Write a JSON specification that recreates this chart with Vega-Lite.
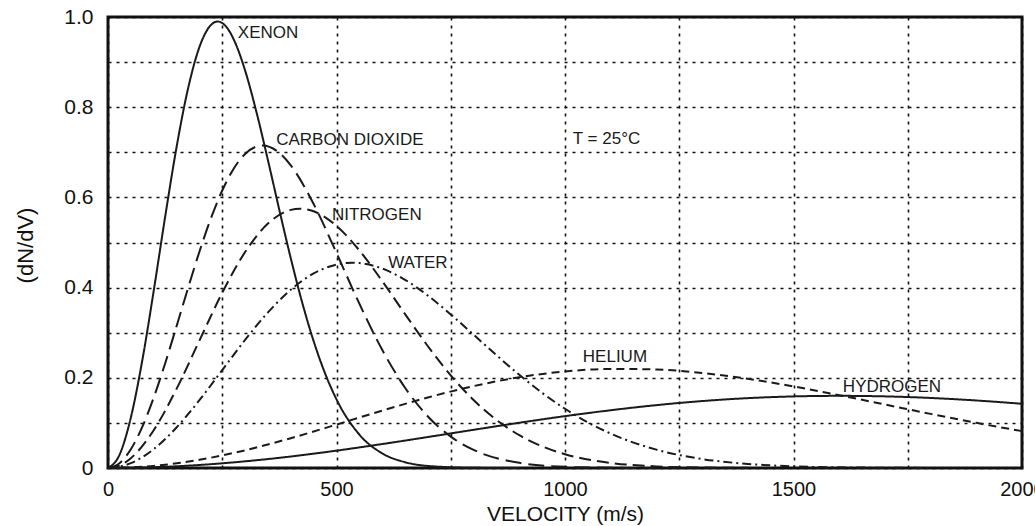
{
  "$schema": "https://vega.github.io/schema/vega-lite/v6.json",
  "width": 914,
  "height": 451,
  "autosize": {"type": "none"},
  "padding": {"left": 108, "top": 17, "right": 13, "bottom": 58},
  "background": "white",
  "config": {"view": {"stroke": "#111", "strokeWidth": 3}, "font": "Liberation Sans"},
  "datasets": {
    "curves": [
      {"g":"Xenon","v":0,"f":0},{"g":"Xenon","v":25,"f":0.0289},{"g":"Xenon","v":50,"f":0.1118},{"g":"Xenon","v":75,"f":0.2384},{"g":"Xenon","v":100,"f":0.3927},{"g":"Xenon","v":125,"f":0.5566},{"g":"Xenon","v":150,"f":0.7113},{"g":"Xenon","v":175,"f":0.8407},{"g":"Xenon","v":200,"f":0.9332},{"g":"Xenon","v":225,"f":0.9821},{"g":"Xenon","v":240,"f":0.99},{"g":"Xenon","v":260,"f":0.9767},{"g":"Xenon","v":280,"f":0.9391},{"g":"Xenon","v":300,"f":0.8814},{"g":"Xenon","v":325,"f":0.7886},{"g":"Xenon","v":350,"f":0.6824},{"g":"Xenon","v":375,"f":0.5718},{"g":"Xenon","v":400,"f":0.4648},{"g":"Xenon","v":425,"f":0.3667},{"g":"Xenon","v":450,"f":0.2812},{"g":"Xenon","v":475,"f":0.2098},{"g":"Xenon","v":500,"f":0.1522},{"g":"Xenon","v":550,"f":0.0741},{"g":"Xenon","v":600,"f":0.0325},{"g":"Xenon","v":650,"f":0.0129},{"g":"Xenon","v":700,"f":0.0046},{"g":"Xenon","v":800,"f":0.0004},{"g":"Xenon","v":900,"f":0},
      {"g":"CO2","v":0,"f":0},{"g":"CO2","v":25,"f":0.0106},{"g":"CO2","v":50,"f":0.0416},{"g":"CO2","v":75,"f":0.0911},{"g":"CO2","v":100,"f":0.1559},{"g":"CO2","v":125,"f":0.2318},{"g":"CO2","v":150,"f":0.3144},{"g":"CO2","v":175,"f":0.3985},{"g":"CO2","v":200,"f":0.4795},{"g":"CO2","v":225,"f":0.553},{"g":"CO2","v":250,"f":0.6153},{"g":"CO2","v":275,"f":0.6637},{"g":"CO2","v":300,"f":0.6964},{"g":"CO2","v":338,"f":0.715},{"g":"CO2","v":375,"f":0.6986},{"g":"CO2","v":400,"f":0.6709},{"g":"CO2","v":450,"f":0.5853},{"g":"CO2","v":500,"f":0.4768},{"g":"CO2","v":550,"f":0.3644},{"g":"CO2","v":600,"f":0.262},{"g":"CO2","v":650,"f":0.178},{"g":"CO2","v":700,"f":0.1143},{"g":"CO2","v":750,"f":0.0696},{"g":"CO2","v":800,"f":0.0402},{"g":"CO2","v":900,"f":0.0115},{"g":"CO2","v":1000,"f":0.0027},{"g":"CO2","v":1100,"f":0.0005},{"g":"CO2","v":1200,"f":0},
      {"g":"N2","v":0,"f":0},{"g":"N2","v":25,"f":0.0055},{"g":"N2","v":50,"f":0.0218},{"g":"N2","v":100,"f":0.0837},{"g":"N2","v":150,"f":0.1755},{"g":"N2","v":200,"f":0.2825},{"g":"N2","v":250,"f":0.3886},{"g":"N2","v":300,"f":0.4788},{"g":"N2","v":350,"f":0.542},{"g":"N2","v":400,"f":0.5723},{"g":"N2","v":420,"f":0.575},{"g":"N2","v":450,"f":0.5693},{"g":"N2","v":500,"f":0.5369},{"g":"N2","v":550,"f":0.4825},{"g":"N2","v":600,"f":0.4145},{"g":"N2","v":650,"f":0.3413},{"g":"N2","v":700,"f":0.27},{"g":"N2","v":750,"f":0.2054},{"g":"N2","v":800,"f":0.1506},{"g":"N2","v":850,"f":0.1066},{"g":"N2","v":900,"f":0.0727},{"g":"N2","v":950,"f":0.048},{"g":"N2","v":1000,"f":0.0306},{"g":"N2","v":1100,"f":0.0113},{"g":"N2","v":1200,"f":0.0036},{"g":"N2","v":1300,"f":0.001},{"g":"N2","v":1400,"f":0.0003},
      {"g":"Water","v":0,"f":0},{"g":"Water","v":50,"f":0.0107},{"g":"Water","v":100,"f":0.0417},{"g":"Water","v":150,"f":0.0899},{"g":"Water","v":200,"f":0.1503},{"g":"Water","v":250,"f":0.2171},{"g":"Water","v":300,"f":0.284},{"g":"Water","v":350,"f":0.345},{"g":"Water","v":400,"f":0.3953},{"g":"Water","v":450,"f":0.4313},{"g":"Water","v":500,"f":0.451},{"g":"Water","v":535,"f":0.455},{"g":"Water","v":550,"f":0.4543},{"g":"Water","v":600,"f":0.4423},{"g":"Water","v":650,"f":0.4172},{"g":"Water","v":700,"f":0.3822},{"g":"Water","v":750,"f":0.3406},{"g":"Water","v":800,"f":0.2956},{"g":"Water","v":850,"f":0.2501},{"g":"Water","v":900,"f":0.2066},{"g":"Water","v":950,"f":0.1666},{"g":"Water","v":1000,"f":0.1313},{"g":"Water","v":1050,"f":0.1012},{"g":"Water","v":1100,"f":0.0763},{"g":"Water","v":1200,"f":0.0407},{"g":"Water","v":1300,"f":0.0199},{"g":"Water","v":1400,"f":0.009},{"g":"Water","v":1500,"f":0.0037},{"g":"Water","v":1600,"f":0.0014},{"g":"Water","v":1800,"f":0.0002},
      {"g":"Helium","v":0,"f":0},{"g":"Helium","v":100,"f":0.0046},{"g":"Helium","v":200,"f":0.0182},{"g":"Helium","v":300,"f":0.0393},{"g":"Helium","v":400,"f":0.0661},{"g":"Helium","v":500,"f":0.0963},{"g":"Helium","v":600,"f":0.1272},{"g":"Helium","v":700,"f":0.1564},{"g":"Helium","v":800,"f":0.1816},{"g":"Helium","v":900,"f":0.2012},{"g":"Helium","v":1000,"f":0.214},{"g":"Helium","v":1100,"f":0.2197},{"g":"Helium","v":1200,"f":0.2184},{"g":"Helium","v":1300,"f":0.2107},{"g":"Helium","v":1400,"f":0.1978},{"g":"Helium","v":1500,"f":0.1809},{"g":"Helium","v":1600,"f":0.1615},{"g":"Helium","v":1700,"f":0.1408},{"g":"Helium","v":1800,"f":0.12},{"g":"Helium","v":1900,"f":0.1001},{"g":"Helium","v":2000,"f":0.0817},
      {"g":"Hydrogen","v":0,"f":0},{"g":"Hydrogen","v":100,"f":0.0017},{"g":"Hydrogen","v":200,"f":0.0067},{"g":"Hydrogen","v":300,"f":0.0148},{"g":"Hydrogen","v":400,"f":0.0255},{"g":"Hydrogen","v":500,"f":0.0385},{"g":"Hydrogen","v":600,"f":0.0531},{"g":"Hydrogen","v":700,"f":0.0687},{"g":"Hydrogen","v":800,"f":0.0847},{"g":"Hydrogen","v":900,"f":0.1003},{"g":"Hydrogen","v":1000,"f":0.115},{"g":"Hydrogen","v":1100,"f":0.1281},{"g":"Hydrogen","v":1200,"f":0.1394},{"g":"Hydrogen","v":1300,"f":0.1484},{"g":"Hydrogen","v":1400,"f":0.1549},{"g":"Hydrogen","v":1500,"f":0.1587},{"g":"Hydrogen","v":1600,"f":0.16},{"g":"Hydrogen","v":1700,"f":0.1588},{"g":"Hydrogen","v":1800,"f":0.1553},{"g":"Hydrogen","v":1900,"f":0.1497},{"g":"Hydrogen","v":2000,"f":0.1424}
    ],
    "labels": [
      {"label":"XENON","x":284,"y":0.964},
      {"label":"CARBON DIOXIDE","x":368,"y":0.727},
      {"label":"NITROGEN","x":490,"y":0.561},
      {"label":"WATER","x":613,"y":0.4545},
      {"label":"HELIUM","x":1039,"y":0.246},
      {"label":"HYDROGEN","x":1608,"y":0.18},
      {"label":"T = 25°C","x":1017,"y":0.7295}
    ]
  },
  "layer": [
    {
      "data": {"name": "curves"},
      "mark": {"type": "line", "interpolate": "monotone", "strokeWidth": 2, "color": "#1a1a1a"},
      "encoding": {
        "x": {
          "field": "v", "type": "quantitative",
          "scale": {"domain": [0, 2000], "nice": false},
          "axis": {
            "values": [0, 250, 500, 750, 1000, 1250, 1500, 1750, 2000],
            "grid": true, "gridDash": [3, 5], "gridColor": "#111", "gridWidth": 1.6,
            "domain": false, "ticks": false, "tickSize": 0,
            "labelExpr": "datum.value % 500 == 0 ? '' + datum.value : ''",
            "labelFontSize": 20, "labelPadding": 11, "labelColor": "#111",
            "labelFlush": false, "labelOverlap": false,
            "title": "VELOCITY (m/s)", "titleFontSize": 21, "titleFontWeight": "normal",
            "titleColor": "#111", "titleY": 46, "titleBaseline": "middle"
          }
        },
        "y": {
          "field": "f", "type": "quantitative",
          "scale": {"domain": [0, 1], "nice": false},
          "axis": {
            "values": [0, 0.1, 0.2, 0.3, 0.4, 0.5, 0.6, 0.7, 0.8, 0.9, 1.0],
            "grid": true, "gridDash": [3, 5], "gridColor": "#111", "gridWidth": 1.6,
            "domain": false, "ticks": false, "tickSize": 0,
            "labelExpr": "round(datum.value * 10) % 2 == 0 ? (datum.value == 0 ? '0' : format(datum.value, '.1f')) : ''",
            "labelFontSize": 21, "labelPadding": 15, "labelColor": "#111",
            "labelFlush": false, "labelOverlap": false,
            "title": "(dN/dV)", "titleFontSize": 22, "titleFontWeight": "normal",
            "titleColor": "#111", "titleX": -83, "titleY": 228,
            "titleAlign": "center", "titleBaseline": "middle", "titleAngle": -90
          }
        },
        "strokeDash": {
          "field": "g", "type": "nominal",
          "scale": {
            "domain": ["Xenon", "CO2", "N2", "Water", "Helium", "Hydrogen"],
            "range": [[1, 0], [16, 7], [12, 6], [9, 4, 2, 4], [8, 5], [1, 0]]
          },
          "legend": null
        },
        "detail": {"field": "g", "type": "nominal"}
      }
    },
    {
      "data": {"name": "labels"},
      "mark": {"type": "text", "align": "left", "baseline": "middle", "fontSize": 17, "font": "Liberation Sans", "color": "#1a1a1a"},
      "encoding": {
        "x": {"field": "x", "type": "quantitative"},
        "y": {"field": "y", "type": "quantitative"},
        "text": {"field": "label"}
      }
    }
  ]
}
